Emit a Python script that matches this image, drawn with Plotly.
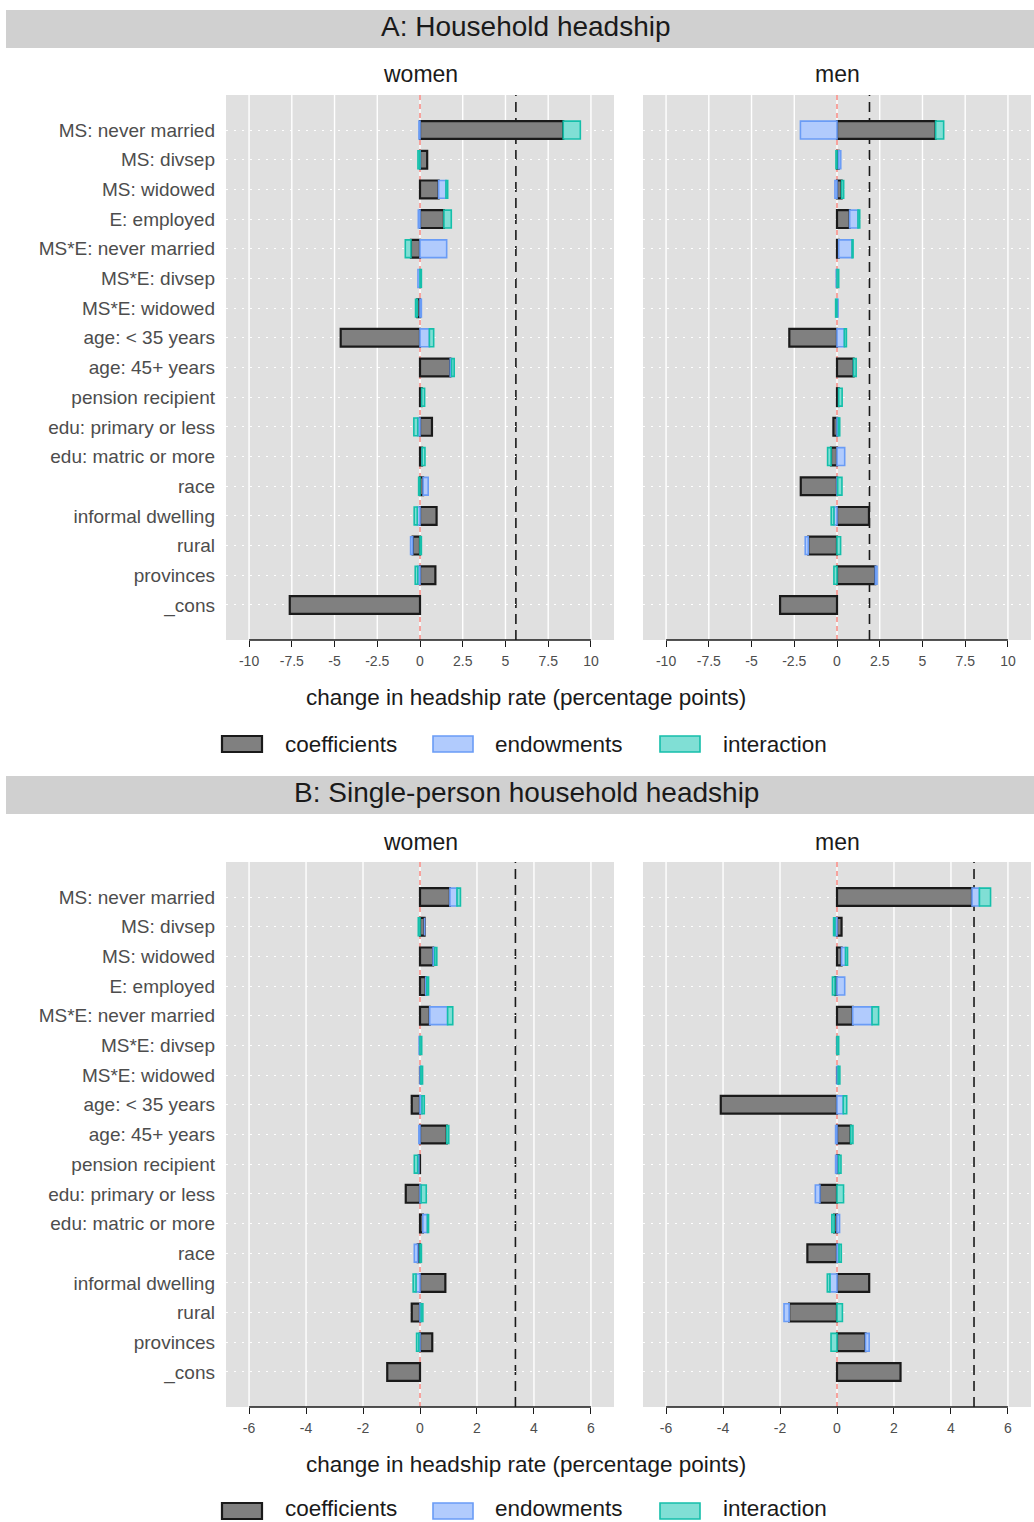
import plotly.graph_objects as go

# ---------------------------------------------------------------------------
# Data: decomposition of the change in headship rate (percentage points)
# ---------------------------------------------------------------------------
categories = [
    "MS: never married", "MS: divsep", "MS: widowed", "E: employed",
    "MS*E: never married", "MS*E: divsep", "MS*E: widowed",
    "age: < 35 years", "age: 45+ years", "pension recipient",
    "edu: primary or less", "edu: matric or more", "race",
    "informal dwelling", "rural", "provinces", "_cons",
]

# A: Household headship, women
hh_women_coef = [8.38, 0.42, 1.09, 1.40, -0.53, 0.0, -0.16, -4.64, 1.77, 0.10,
                 0.70, 0.12, 0.18, 0.97, -0.43, 0.90, -7.62]
hh_women_endow = [-0.06, -0.02, 0.43, -0.10, 1.56, -0.12, 0.08, 0.55, 0.08, 0.0,
                  -0.13, 0.0, 0.30, -0.16, -0.12, -0.13, None]
hh_women_inter = [1.00, -0.10, 0.10, 0.43, -0.33, 0.08, -0.10, 0.25, 0.15, 0.17,
                  -0.23, 0.17, -0.08, -0.18, 0.08, -0.15, None]

# A: Household headship, men
hh_men_coef = [5.77, 0.10, 0.27, 0.74, 0.10, 0.0, 0.0, -2.79, 0.97, 0.10,
               -0.21, -0.35, -2.12, 1.87, -1.68, 2.24, -3.33]
hh_men_endow = [-2.14, 0.12, -0.12, 0.49, 0.78, -0.04, 0.06, 0.43, 0.0, 0.0,
                0.08, 0.45, 0.04, -0.18, -0.18, 0.10, None]
hh_men_inter = [0.47, -0.06, 0.12, 0.10, 0.06, 0.10, -0.08, 0.12, 0.15, 0.20,
                0.08, -0.20, 0.25, -0.16, 0.21, -0.18, None]

# B: Single-person household headship, women
sp_women_coef = [1.05, 0.16, 0.46, 0.20, 0.34, 0.0, 0.0, -0.29, 0.94, -0.04,
                 -0.50, 0.10, -0.08, 0.89, -0.29, 0.43, -1.15]
sp_women_endow = [0.25, 0.0, 0.06, 0.04, 0.63, -0.03, 0.03, 0.07, -0.04, -0.04,
                  0.04, 0.16, -0.12, -0.14, 0.04, -0.04, None]
sp_women_inter = [0.12, -0.06, 0.07, 0.06, 0.18, 0.06, 0.06, 0.08, 0.07, -0.12,
                  0.18, 0.04, 0.05, -0.10, 0.06, -0.08, None]

# B: Single-person household headship, men
sp_men_coef = [4.74, 0.16, 0.16, -0.07, 0.55, 0.0, 0.0, -4.08, 0.48, 0.06,
               -0.60, -0.10, -1.04, 1.13, -1.68, 1.00, 2.23]
sp_men_endow = [0.26, -0.07, 0.14, 0.27, 0.68, 0.0, 0.04, 0.22, -0.05, -0.05,
                -0.16, 0.09, 0.07, -0.25, -0.18, 0.13, None]
sp_men_inter = [0.39, -0.05, 0.07, -0.09, 0.23, 0.06, 0.06, 0.12, 0.08, 0.08,
                0.23, -0.08, 0.08, -0.09, 0.19, -0.21, None]

# Total change in headship rate (dashed reference lines)
total_change = {"hh_women": 5.61, "hh_men": 1.90, "sp_women": 3.35, "sp_men": 4.81}

components = ["coefficients", "endowments", "interaction"]

# ---------------------------------------------------------------------------
# Styling
# ---------------------------------------------------------------------------
W, H = 1034, 1522
FONT = "Liberation Sans, Arial, Helvetica, sans-serif"
TXT = "#1A1A1A"
TICK_TXT = "#4D4D4D"
PANEL_BG = "#E0E0E0"
STRIP_BG = "#D0D0D0"

fills = {"coefficients": "#808080", "endowments": "#B1CBFD", "interaction": "#80DFD5"}
borders = {"coefficients": "#1A1A1A", "endowments": "#6A9CF6", "interaction": "#14BFAA"}
border_w = {"coefficients": 2.2, "endowments": 1.6, "interaction": 1.6}


def px_x(x):
    return x / W


def px_y(y):
    return 1 - y / H


panels = [
    # key, xaxis id, yaxis id, x px domain, y px domain, values, x half-range, ticks
    ("hh_women", "x", "y", (226, 614), (95, 640),
     (hh_women_coef, hh_women_endow, hh_women_inter), 11.35,
     [-10, -7.5, -5, -2.5, 0, 2.5, 5, 7.5, 10]),
    ("hh_men", "x2", "y2", (643, 1031), (95, 640),
     (hh_men_coef, hh_men_endow, hh_men_inter), 11.35,
     [-10, -7.5, -5, -2.5, 0, 2.5, 5, 7.5, 10]),
    ("sp_women", "x3", "y3", (226, 614), (862, 1407),
     (sp_women_coef, sp_women_endow, sp_women_inter), 6.81,
     [-6, -4, -2, 0, 2, 4, 6]),
    ("sp_men", "x4", "y4", (643, 1031), (862, 1407),
     (sp_men_coef, sp_men_endow, sp_men_inter), 6.81,
     [-6, -4, -2, 0, 2, 4, 6]),
]


def fmt(v):
    return f"{v:g}"


fig = go.Figure()
shapes = []
annotations = []
layout_axes = {}

n = len(categories)
for key, xa, ya, (x0, x1), (y0, y1), vals, xr, ticks in panels:
    for comp, v in zip(components, vals):
        fig.add_trace(go.Bar(
            y=categories, x=v, orientation="h", name=comp,
            width=0.6, xaxis=xa, yaxis=ya, showlegend=False,
            marker=dict(color=fills[comp],
                        line=dict(color=borders[comp], width=border_w[comp])),
            hoverinfo="x+y+name",
        ))

    xname = "xaxis" + xa[1:]
    yname = "yaxis" + ya[1:]
    show_labels = key.endswith("women")
    layout_axes[xname] = dict(
        domain=[px_x(x0), px_x(x1)], anchor=ya, range=[-xr, xr],
        tickvals=ticks, ticktext=[fmt(t) for t in ticks],
        showgrid=False, zeroline=False, showline=False,
        ticks="outside", ticklen=6, tickwidth=1, tickcolor="#1A1A1A",
        ticklabelstandoff=2,
        tickfont=dict(size=14, color=TICK_TXT, family=FONT),
        fixedrange=True,
    )
    layout_axes[yname] = dict(
        domain=[px_y(y1), px_y(y0)], anchor=xa, type="category",
        categoryorder="array", categoryarray=categories,
        range=[n - 1 + 1.18, -1.18],
        showgrid=True, gridcolor="white", gridwidth=1.2, griddash="2px,6px",
        zeroline=False, showline=False, ticks="",
        showticklabels=show_labels, ticklabelstandoff=10,
        tickfont=dict(size=19, color=TICK_TXT, family=FONT),
        fixedrange=True,
    )

    # vertical major grid lines at the x ticks
    for t in ticks:
        shapes.append(dict(type="line", xref=xa, yref=f"{ya} domain",
                           x0=t, x1=t, y0=0, y1=1,
                           line=dict(color="white", width=1.4), layer="below"))
    # capped x axis line spanning only the tick range
    shapes.append(dict(type="line", xref=xa, yref=f"{ya} domain",
                       x0=ticks[0], x1=ticks[-1], y0=0, y1=0,
                       line=dict(color="#1A1A1A", width=1.5), layer="above"))
    # zero reference
    shapes.append(dict(type="line", xref=xa, yref=f"{ya} domain",
                       x0=0, x1=0, y0=0, y1=1,
                       line=dict(color="#F8766D", width=1.3, dash="5px,4px"),
                       layer="below"))
    # total change
    tc = total_change[key]
    shapes.append(dict(type="line", xref=xa, yref=f"{ya} domain",
                       x0=tc, x1=tc, y0=0, y1=1,
                       line=dict(color="#1A1A1A", width=1.6, dash="10px,6px"),
                       layer="below"))

# Section strips, facet titles, axis titles and legends
sections = [
    ("A: Household headship", 10, 48, 74, 697, 744, 744),
    ("B: Single-person household headship", 776, 814, 842, 1464, 1511, 1508),
]
for title, s0, s1, facet_y, xtitle_y, legend_y, legend_txt_y in sections:
    shapes.append(dict(type="rect", xref="paper", yref="paper",
                       x0=px_x(6), x1=1, y0=px_y(s1), y1=px_y(s0),
                       fillcolor=STRIP_BG, line=dict(width=0), layer="below"))
    annotations.append(dict(text=title, xref="paper", yref="paper",
                            x=px_x(526), y=px_y((s0 + s1) / 2 - 2), showarrow=False,
                            xanchor="center", yanchor="middle",
                            font=dict(size=28, color=TXT, family=FONT)))
    for lab, cx in (("women", 420), ("men", 837)):
        annotations.append(dict(text=lab, xref="paper", yref="paper",
                                x=px_x(cx), y=px_y(facet_y), showarrow=False,
                                xanchor="center", yanchor="middle",
                                font=dict(size=23, color=TXT, family=FONT)))
    annotations.append(dict(text="change in headship rate (percentage points)",
                            xref="paper", yref="paper",
                            x=px_x(525.5), y=px_y(xtitle_y), showarrow=False,
                            xanchor="center", yanchor="middle",
                            font=dict(size=22.5, color=TXT, family=FONT)))
    for comp, bx, tx in (("coefficients", 222, 283),
                         ("endowments", 433, 493),
                         ("interaction", 660, 721)):
        shapes.append(dict(type="rect", xref="paper", yref="paper",
                           x0=px_x(bx), x1=px_x(bx + 40),
                           y0=px_y(legend_y + 8), y1=px_y(legend_y - 8),
                           fillcolor=fills[comp],
                           line=dict(color=borders[comp], width=border_w[comp]),
                           layer="above"))
        annotations.append(dict(text=comp, xref="paper", yref="paper",
                                x=px_x(tx), y=px_y(legend_txt_y), showarrow=False,
                                xanchor="left", yanchor="middle",
                                font=dict(size=22.5, color=TXT, family=FONT)))

fig.update_layout(
    width=W, height=H,
    margin=dict(l=0, r=0, t=0, b=0),
    paper_bgcolor="white", plot_bgcolor=PANEL_BG,
    barmode="relative", bargap=0.4,
    font=dict(family=FONT, color=TXT),
    shapes=shapes, annotations=annotations,
    showlegend=False,
    **layout_axes,
)

fig.write_html("out.html")
